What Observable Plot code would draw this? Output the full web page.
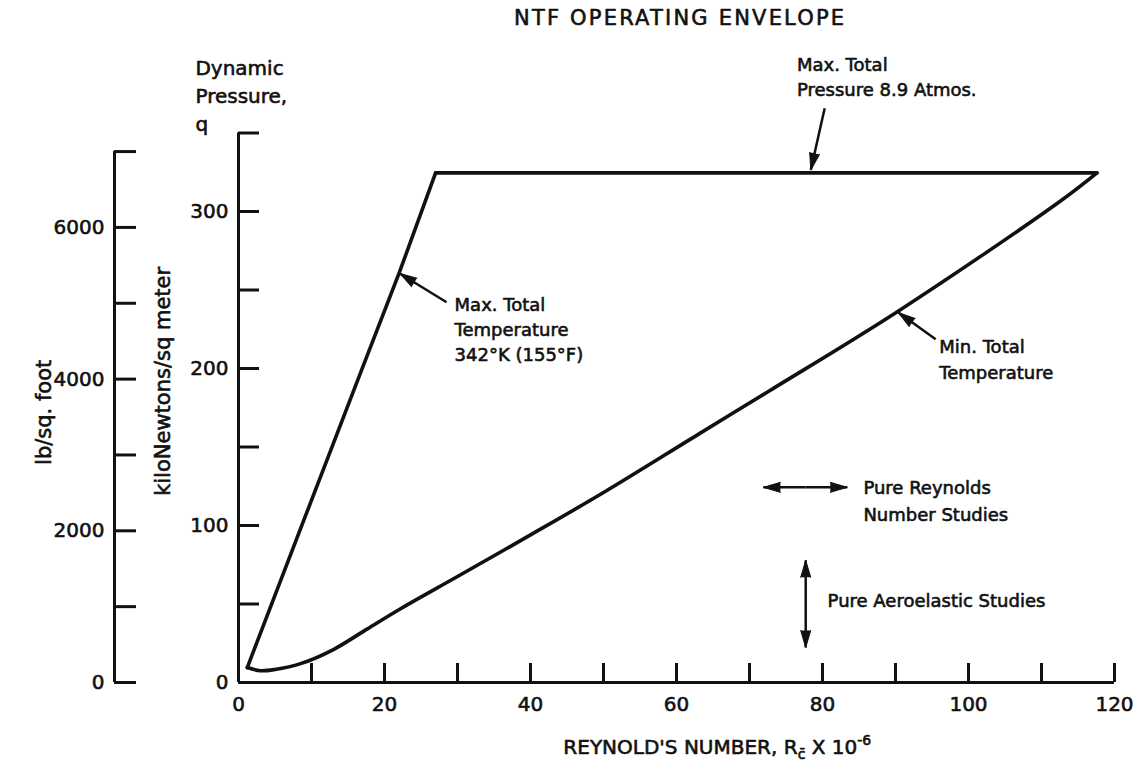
<!DOCTYPE html>
<html>
<head>
<meta charset="utf-8">
<script src="https://cdn.jsdelivr.net/npm/d3@7"></script>
<script src="https://cdn.jsdelivr.net/npm/@observablehq/plot@0.6"></script>
<style>
  body { margin: 0; background: #fff; }
  #chart svg { display: block; }
</style>
</head>
<body>
<div id="chart"></div>
<script>
// ---------- data ----------
const X_TICKS = [10, 20, 30, 40, 50, 60, 70, 80, 90, 100, 110, 120];
const X_LABELS = [0, 20, 40, 60, 80, 100, 120];
const KN_TICKS = [50, 100, 150, 200, 250, 300, 350];
const KN_LABELS = [0, 100, 200, 300];
const LB_TICKS = [0, 1000, 2000, 3000, 4000, 5000, 6000, 7000];
const LB_LABELS = [0, 2000, 4000, 6000];
const LB_PER_KN = 20.7;

// Max. total temperature boundary (Reynolds x1e-6, q kN/m^2)
const maxTempX = [1.2, 9, 16.7, 22, 27];
const maxTempY = [9.5, 104, 197, 260.7, 324.6];
// Max. total pressure boundary
const maxPressX = [27, 117.6];
const maxPressY = [324.6, 324.6];
// Min. total temperature boundary
const minTempX = [1.2, 3, 5, 8.5, 13, 17.6, 22.2, 30, 40, 50, 63.2, 72.8, 90.2, 112.7, 117.6];
const minTempY = [9.5, 7.5, 8.3, 12, 21, 34, 47, 67.5, 94, 121, 158.7, 186, 236, 307, 324.6];

// annotation arrows: [x1, y1, x2, y2] (tail -> tip) in data units
const ARROWS = [
  [80.3, 365.8, 78.4, 326.5],
  [28.5, 242.2, 22.1, 260.5],
  [95.5, 218.6, 90.4, 235.6],
  [77.65, 124.3, 71.9, 124.3],
  [77.65, 124.3, 83.4, 124.3],
  [77.7, 50, 77.7, 77.8],
  [77.7, 50, 77.7, 22.3]
];

// annotation text lines: [x, y(baseline), text]
const NOTES = [
  [76.5, 389.4, "Max. Total"],
  [76.5, 373.5, "Pressure 8.9 Atmos."],
  [29.6, 236.5, "Max. Total"],
  [29.6, 220.5, "Temperature"],
  [29.6, 204.6, "342°K (155°F)"],
  [96.0, 209.7, "Min. Total"],
  [96.0, 193.1, "Temperature"],
  [85.6, 119.8, "Pure Reynolds"],
  [85.6, 102.6, "Number Studies"],
  [80.7, 47.8, "Pure Aeroelastic Studies"]
];
const QLABEL = [
  [-5.9, 386.9, "Dynamic"],
  [-5.9, 369.0, "Pressure,"],
  [-5.9, 351.2, "q"]
];

// ---------- layout ----------
const W = 1142, H = 771, ML = 238, MR = 28, MT = 132.5, MB = 89;
const frameW = W - ML - MR, frameH = H - MT - MB;
const LB_DX = -124;
const INK = "#111";
const TXT = {fill: INK, stroke: INK, strokeWidth: 0.6};
const kx = frameW / 120, ky = frameH / 350;
const angleOf = d => Math.atan2((d[2] - d[0]) * kx, (d[3] - d[1]) * ky) * 180 / Math.PI;
const hasSpike = typeof Plot.spike === "function";

const toPts = (xs, ys) => xs.map((x, i) => ({x, y: ys[i]}));

const arrowMarks = hasSpike
  ? [
      Plot.link(ARROWS, {x1: d => d[0], y1: d => d[1], x2: d => d[2], y2: d => d[3], stroke: INK, strokeWidth: 2.5}),
      Plot.vector(ARROWS, {x: d => d[2], y: d => d[3], rotate: angleOf, length: 17, r: 5, anchor: "end", shape: "spike", fill: INK, stroke: INK, strokeWidth: 1})
    ]
  : [
      Plot.arrow(ARROWS, {x1: d => d[0], y1: d => d[1], x2: d => d[2], y2: d => d[3], stroke: INK, strokeWidth: 2.5, headLength: 14, headAngle: 40})
    ];

const plot = Plot.plot({
  width: W, height: H,
  marginLeft: ML, marginRight: MR, marginTop: MT, marginBottom: MB,
  style: {fontFamily: "DejaVu Sans", fontSize: "20px", color: INK, background: "#fff"},
  x: {domain: [0, 120], axis: null},
  y: {domain: [0, 350], axis: null},
  marks: [
    // main axes
    Plot.ruleY([0], {x1: 0, x2: 120, stroke: INK, strokeWidth: 3}),
    Plot.ruleX([0], {y1: 0, y2: 350, stroke: INK, strokeWidth: 3}),
    Plot.tickX(X_TICKS, {x: d => d, insetTop: frameH - 19, stroke: INK, strokeWidth: 3}),
    Plot.tickY(KN_TICKS, {y: d => d, insetRight: frameW - 21, stroke: INK, strokeWidth: 3}),
    // lb/sq ft axis
    Plot.ruleX([0], {y1: 0, y2: LB_TICKS[LB_TICKS.length - 1] / LB_PER_KN, dx: LB_DX, stroke: INK, strokeWidth: 3}),
    Plot.tickY(LB_TICKS, {y: d => d / LB_PER_KN, dx: LB_DX, insetRight: frameW - 22, stroke: INK, strokeWidth: 3}),
    // tick labels
    Plot.text(X_LABELS, {x: d => d, y: 0, dy: 22, text: d => String(d), fontSize: 20, ...TXT}),
    Plot.text(KN_LABELS, {x: 0, y: d => d, dx: -10, textAnchor: "end", text: d => String(d), fontSize: 20, ...TXT}),
    Plot.text(LB_LABELS, {x: 0, y: d => d / LB_PER_KN, dx: LB_DX - 10, textAnchor: "end", text: d => String(d), fontSize: 20, ...TXT}),
    // envelope
    Plot.line(toPts(maxTempX, maxTempY), {x: "x", y: "y", stroke: INK, strokeWidth: 3.6, strokeLinejoin: "round"}),
    Plot.line(toPts(maxPressX, maxPressY), {x: "x", y: "y", stroke: INK, strokeWidth: 3.6, strokeLinejoin: "round"}),
    Plot.line(toPts(minTempX, minTempY), {x: "x", y: "y", curve: "catmull-rom", stroke: INK, strokeWidth: 3.6, strokeLinejoin: "round"}),
    // arrows
    ...arrowMarks,
    // annotations
    Plot.text(NOTES, {x: d => d[0], y: d => d[1], text: d => d[2], textAnchor: "start", lineAnchor: "bottom", fontSize: 18, ...TXT}),
    Plot.text(QLABEL, {x: d => d[0], y: d => d[1], text: d => d[2], textAnchor: "start", lineAnchor: "bottom", fontSize: 20, ...TXT}),
    // axis titles
    Plot.text(["kiloNewtons/sq meter"], {x: -10.3, y: 191.8, text: d => d, rotate: -90, fontSize: 21, ...TXT}),
    Plot.text(["lb/sq. foot"], {x: -26.6, y: 172.1, text: d => d, rotate: -90, fontSize: 21, ...TXT}),
    Plot.text(["REYNOLD'S NUMBER, R"], {x: 44.5, y: -45.3, text: d => d, textAnchor: "start", lineAnchor: "bottom", fontSize: 20, ...TXT, ariaLabel: () => "xtitle"}),
    Plot.text(["NTF OPERATING ENVELOPE"], {x: 60.5, y: 418.7, text: d => d, lineAnchor: "bottom", fontSize: 21, ...TXT, ariaLabel: () => "title"})
  ]
});

document.getElementById("chart").appendChild(plot);

// typographic touches
d3.select(plot).selectAll('text[aria-label="title"]').style("letter-spacing", "2.2px");
const xt = d3.select(plot).select('text[aria-label="xtitle"]');
xt.append("tspan").attr("dy", 5).attr("font-size", 14).text("c\u0304");
xt.append("tspan").attr("dy", -5).attr("font-size", 20).text(" X 10");
xt.append("tspan").attr("dy", -9).attr("font-size", 14).text("-6");
</script>
</body>
</html>
